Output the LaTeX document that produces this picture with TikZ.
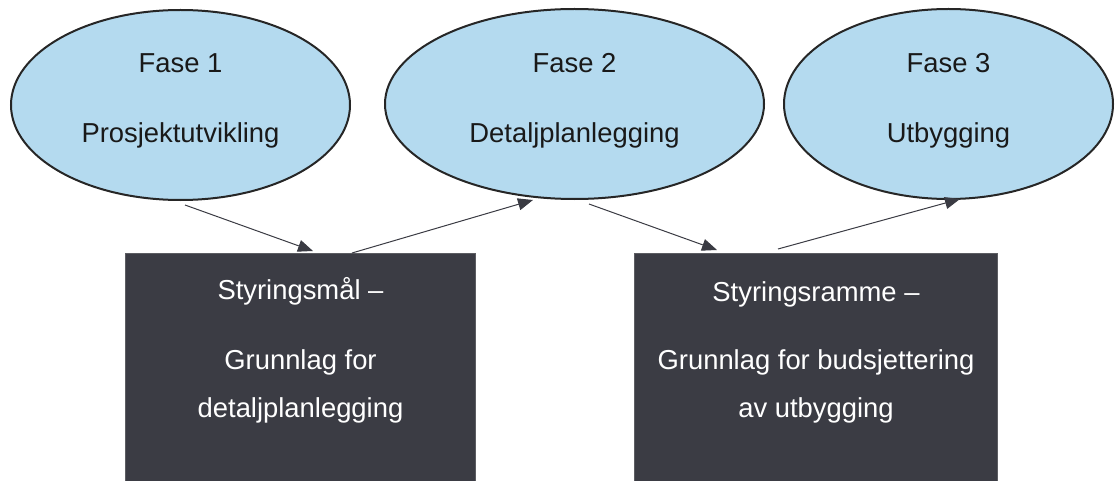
\documentclass[tikz,border=0pt]{standalone}
\usepackage{fontspec}
\setmainfont{Liberation Sans}
\usetikzlibrary{shapes,arrows.meta,positioning}
\definecolor{faseblue}{HTML}{B4DAEF}
\definecolor{boxgray}{HTML}{3B3C44}
\definecolor{boxedge}{HTML}{5C5D62}
\definecolor{arrowgray}{HTML}{3A3B43}

\begin{document}
\begin{tikzpicture}[x=1pt,y=-1pt]

% Define phase, box and arrow styles
\tikzstyle{fase} = [draw=black!85, fill=faseblue, line width=2pt,
    ellipse, minimum height=190pt, inner sep=0pt, align=center,
    text depth=13pt, font=\fontsize{27.4}{70}\selectfont, text=black!90]
\tikzstyle{styring} = [draw=boxedge, fill=boxgray, line width=1pt,
    rectangle, minimum height=240pt, anchor=north]
\tikzstyle{styringtext} = [text=white, align=center, inner sep=0pt,
    anchor=base, font=\fontsize{27.4}{48}\selectfont]
\tikzstyle{pil} = [draw=arrowgray, line width=1pt,
    -{Triangle[length=15pt,width=12pt]}]

\useasboundingbox (0,0) rectangle (1115,481);
\clip (0,0) rectangle (1115,481);

% the three phases
\node[fase, minimum width=339pt] (fase1) at (180.5,105) {Fase 1\\Prosjektutvikling};
\node[fase, minimum width=379pt] (fase2) at (574.5,104) {Fase 2\\Detaljplanlegging};
\node[fase, minimum width=329pt] (fase3) at (948.5,104) {Fase 3\\Utbygging};

% the two dark boxes
\node[styring, minimum width=350pt] (styr1) at (300.5,253) {};
\node[styring, minimum width=363pt] (styr2) at (816,253) {};
\node[styringtext] (styr1tekst) at ([yshift=-164pt]styr1.north)
    {Styringsmål –\\[22pt]Grunnlag for\\detaljplanlegging};
\node[styringtext] (styr2tekst) at ([yshift=-164pt]styr2.north)
    {Styringsramme –\\[20pt]Grunnlag for budsjettering\\av utbygging};

% arrows
\draw[pil] ([xshift=4.5pt,yshift=-4pt]fase1.south) -- ([xshift=12.5pt,yshift=2pt]styr1.north);
\draw[pil] ([xshift=51.5pt]styr1.north) -- ([xshift=-41.5pt]fase2.south);
\draw[pil] ([xshift=14.5pt,yshift=-4pt]fase2.south) -- ([xshift=-99pt,yshift=3pt]styr2.north);
\draw[pil] ([xshift=-38pt,yshift=4pt]styr2.north) -- ([xshift=11.5pt,yshift=1pt]fase3.south);

\end{tikzpicture}
\end{document}
